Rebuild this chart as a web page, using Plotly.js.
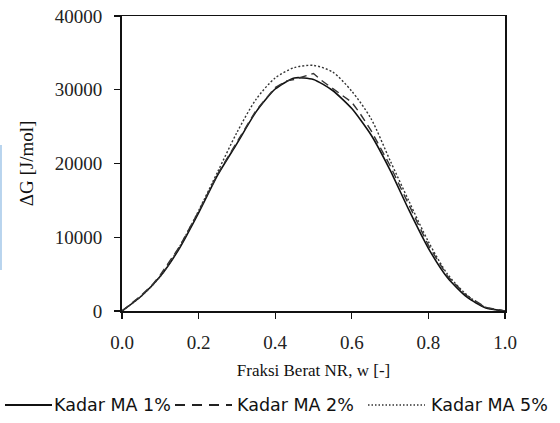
<!DOCTYPE html>
<html>
<head>
<meta charset="utf-8">
<script src="https://cdn.plot.ly/plotly-3.0.1.min.js"></script>
<style>html,body{margin:0;padding:0;background:#fff;}#chart{width:560px;height:423px;}</style>
</head>
<body>
<div id="chart"></div>
<script>
// Data
const seriesNames = ["Kadar MA 1%", "Kadar MA 2%", "Kadar MA 5%"];

const xMA1 = [0, 0.05, 0.1, 0.15, 0.2, 0.25, 0.3, 0.35, 0.4, 0.45, 0.5, 0.55, 0.6, 0.65, 0.7, 0.75, 0.8, 0.85, 0.9, 0.95, 1.0];
const yMA1 = [0, 2000, 4700, 8500, 13300, 18450, 22700, 27000, 30100, 31600, 31400, 29900, 27450, 23900, 19100, 13600, 8500, 4500, 1900, 400, 0];

const xMA2 = [0, 0.05, 0.08, 0.1, 0.15, 0.2, 0.25, 0.3, 0.35, 0.4, 0.43, 0.45, 0.5, 0.52, 0.55, 0.6, 0.62, 0.65, 0.7, 0.75, 0.8, 0.85, 0.9, 0.95, 1.0];
const yMA2 = [0, 2100, 3600, 4900, 8700, 13500, 18600, 22900, 27200, 30300, 31200, 31400, 32200, 31300, 30200, 28300, 26900, 24500, 19700, 14200, 8900, 4700, 2100, 500, 0];

const xMA5 = [0, 0.05, 0.1, 0.15, 0.2, 0.25, 0.3, 0.35, 0.4, 0.45, 0.5, 0.55, 0.6, 0.65, 0.7, 0.75, 0.8, 0.85, 0.9, 0.95, 1.0];
const yMA5 = [0, 2000, 4700, 8700, 13600, 18900, 24200, 28700, 31600, 33000, 33300, 32400, 29800, 26100, 20400, 14800, 9400, 5000, 2200, 500, 0];

const xTickVals = [0, 0.2, 0.4, 0.6, 0.8, 1.0];
const xTickText = ["0.0", "0.2", "0.4", "0.6", "0.8", "1.0"];
const yTickVals = [0, 10000, 20000, 30000, 40000];
const yTickText = ["0", "10000", "20000", "30000", "40000"];

const lineStyles = [
  {color: "#111", width: 1.6, dash: "solid"},
  {color: "#333", width: 1.4, dash: "8px,5px"},
  {color: "#333", width: 1.4, dash: "2px,2px"}
];

const traces = [
  {x: xMA1, y: yMA1, name: seriesNames[0], mode: "lines",
   line: Object.assign({}, lineStyles[0], {shape: "spline", smoothing: 0.6})},
  {x: xMA2, y: yMA2, name: seriesNames[1], mode: "lines",
   line: Object.assign({}, lineStyles[1], {shape: "linear"})},
  {x: xMA5, y: yMA5, name: seriesNames[2], mode: "lines",
   line: Object.assign({}, lineStyles[2], {shape: "spline", smoothing: 0.8})}
];

// Legend row below the chart (reference uses long samples, drawn as shapes + text)
const legendY = -0.3186;
const legendSamples = [[-0.3055, -0.1828], [0.1384, 0.2872], [0.6423, 0.7911]];
const legendSampleStyles = [
  {color: "#111", width: 2, dash: "solid"},
  {color: "#222", width: 2, dash: "10px,7px"},
  {color: "#333", width: 1.5, dash: "1.5px,2px"}
];
const legendTextX = [-0.1827, 0.2951, 0.8016];

const shapes = [
  {type: "line", xref: "paper", yref: "paper", x0: -0.316, x1: -0.316, y0: 0.139, y1: 0.563,
   line: {color: "#b8d4ee", width: 2}}
];
const annotations = [];
seriesNames.forEach((nm, i) => {
  shapes.push({type: "line", xref: "paper", yref: "paper",
    x0: legendSamples[i][0], x1: legendSamples[i][1], y0: legendY, y1: legendY,
    line: legendSampleStyles[i]});
  annotations.push({xref: "paper", yref: "paper", x: legendTextX[i], y: legendY,
    xanchor: "left", yanchor: "middle", showarrow: false, text: nm,
    font: {family: "DejaVu Sans, Verdana, sans-serif", size: 17.5, color: "#111"}});
});

const serif = "Liberation Serif, Times New Roman, serif";
const layout = {
  width: 560, height: 423,
  margin: {l: 122, r: 55, t: 16, b: 112, autoexpand: false},
  paper_bgcolor: "#fff", plot_bgcolor: "#fff",
  showlegend: false,
  xaxis: {range: [0, 1], tickvals: xTickVals, ticktext: xTickText,
          showgrid: false, zeroline: false, showline: true, mirror: true,
          linecolor: "#111", linewidth: 1.5, ticks: "outside", ticklen: 6, tickwidth: 1.2, tickcolor: "#111",
          ticklabelstandoff: 8,
          tickfont: {family: serif, size: 19, color: "#222"},
          title: {text: "Fraksi Berat NR, w [-]", font: {family: serif, size: 17, color: "#111"}, standoff: 12}},
  yaxis: {range: [0, 40000], tickvals: yTickVals, ticktext: yTickText,
          showgrid: false, zeroline: false, showline: true, mirror: true,
          linecolor: "#111", linewidth: 2, ticks: "outside", ticklen: 6, tickwidth: 1.2, tickcolor: "#111",
          ticklabelstandoff: 8,
          tickfont: {family: serif, size: 19, color: "#222"},
          title: {text: "ΔG [J/mol]", font: {family: serif, size: 19, color: "#111"}, standoff: 16}},
  shapes: shapes,
  annotations: annotations
};

Plotly.newPlot("chart", traces, layout, {staticPlot: true, displayModeBar: false});
</script>
</body>
</html>
